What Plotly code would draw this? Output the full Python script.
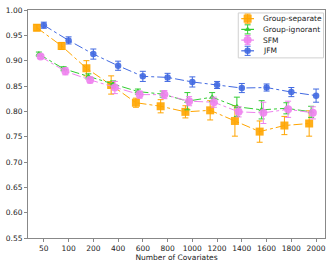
import plotly.graph_objects as go

categories = ["50", "100", "200", "400", "600", "800", "1000", "1200", "1400", "1600", "1800", "2000"]

group_separate = [0.965, 0.929, 0.885, 0.852, 0.817, 0.810, 0.799, 0.802, 0.781, 0.760, 0.772, 0.776]
group_separate_err = [0.006, 0.007, 0.015, 0.018, 0.009, 0.013, 0.012, 0.019, 0.030, 0.021, 0.018, 0.025]

group_ignorant = [0.913, 0.884, 0.869, 0.854, 0.839, 0.834, 0.820, 0.828, 0.809, 0.803, 0.806, 0.799]
group_ignorant_err = [0.004, 0.004, 0.005, 0.006, 0.005, 0.006, 0.017, 0.009, 0.019, 0.018, 0.011, 0.011]

sfm = [0.908, 0.879, 0.862, 0.847, 0.833, 0.833, 0.820, 0.818, 0.799, 0.797, 0.804, 0.797]
sfm_err = [0.004, 0.007, 0.006, 0.012, 0.007, 0.008, 0.009, 0.010, 0.010, 0.021, 0.016, 0.012]

jfm = [0.970, 0.940, 0.913, 0.890, 0.869, 0.867, 0.858, 0.852, 0.846, 0.847, 0.838, 0.831]
jfm_err = [0.006, 0.007, 0.010, 0.009, 0.010, 0.008, 0.010, 0.007, 0.009, 0.007, 0.009, 0.013]

series_names = ["Group-separate", "Group-ignorant", "SFM", "JFM"]

styles = [
    ("#FFA500", "square", 8, -0.28),
    ("#32CD32", "triangle-up", 6, -0.2),
    ("#EE82EE", "circle", 8, -0.13),
    ("#4169E1", "circle", 6.5, 0.0),
]
data = [(group_separate, group_separate_err), (group_ignorant, group_ignorant_err),
        (sfm, sfm_err), (jfm, jfm_err)]

fig = go.Figure()
idx = list(range(len(categories)))
for name, (vals, errs), (color, sym, size, off) in zip(series_names, data, styles):
    fig.add_trace(go.Scatter(
        x=[i + off for i in idx], y=vals, name=name, mode="lines+markers",
        line=dict(color=color, width=1, dash="dashdot"),
        marker=dict(symbol=sym, size=size, color=color, opacity=0.9, line=dict(width=0)),
        error_y=dict(type="data", array=errs, visible=True, color=color, thickness=1, width=3),
        showlegend=False,
    ))

# compact legend drawn on an overlay axis in [0,1] units
leg_y = [0.962, 0.915, 0.868, 0.821]
fig.add_shape(type="rect", xref="paper", yref="paper", x0=0.708, x1=0.995, y0=0.79, y1=0.987,
              line=dict(color="#d0d0d0", width=1), fillcolor="white", layer="below")
for name, (color, sym, size, off), yy in zip(series_names, styles, leg_y):
    fig.add_trace(go.Scatter(
        x=[0.718, 0.761], y=[yy, yy], mode="lines", line=dict(color=color, width=1.2),
        xaxis="x2", yaxis="y2", showlegend=False, hoverinfo="skip"))
    fig.add_trace(go.Scatter(
        x=[0.7395], y=[yy], mode="markers",
        marker=dict(symbol=sym, size=size, color=color, opacity=0.9, line=dict(width=0)),
        error_y=dict(type="constant", value=0.02, color=color, thickness=1, width=3),
        xaxis="x2", yaxis="y2", showlegend=False, hoverinfo="skip"))
    fig.add_annotation(x=0.784, y=yy, xref="paper", yref="paper", text=name, showarrow=False,
                       xanchor="left", yanchor="middle",
                       font=dict(family="DejaVu Sans", size=7.5, color="#222"))

axis_common = dict(showline=True, linecolor="#888", linewidth=1, mirror=True,
                   ticks="outside", ticklen=3, tickcolor="#888", showgrid=False, zeroline=False,
                   tickfont=dict(family="DejaVu Sans", size=7.5, color="#222"))

fig.update_layout(
    width=332, height=266,
    margin=dict(l=25, r=6, t=8, b=24),
    plot_bgcolor="white", paper_bgcolor="white",
    xaxis=dict(range=[-0.64, 11.36], tickvals=idx, ticktext=categories,
               title=dict(text="Number of Covariates", font=dict(family="DejaVu Sans", size=7.5, color="#222"), standoff=2),
               **axis_common),
    yaxis=dict(range=[0.55, 1.0], tickvals=[0.55, 0.6, 0.65, 0.7, 0.75, 0.8, 0.85, 0.9, 0.95, 1.0],
               tickformat=".2f", **axis_common),
    xaxis2=dict(range=[0, 1], overlaying="x", visible=False, fixedrange=True),
    yaxis2=dict(range=[0, 1], overlaying="y", visible=False, fixedrange=True),
    showlegend=False,
)

fig.write_html("out.html", config={"displayModeBar": False},
               post_script="document.body.style.margin='0';document.body.style.overflow='hidden';")
